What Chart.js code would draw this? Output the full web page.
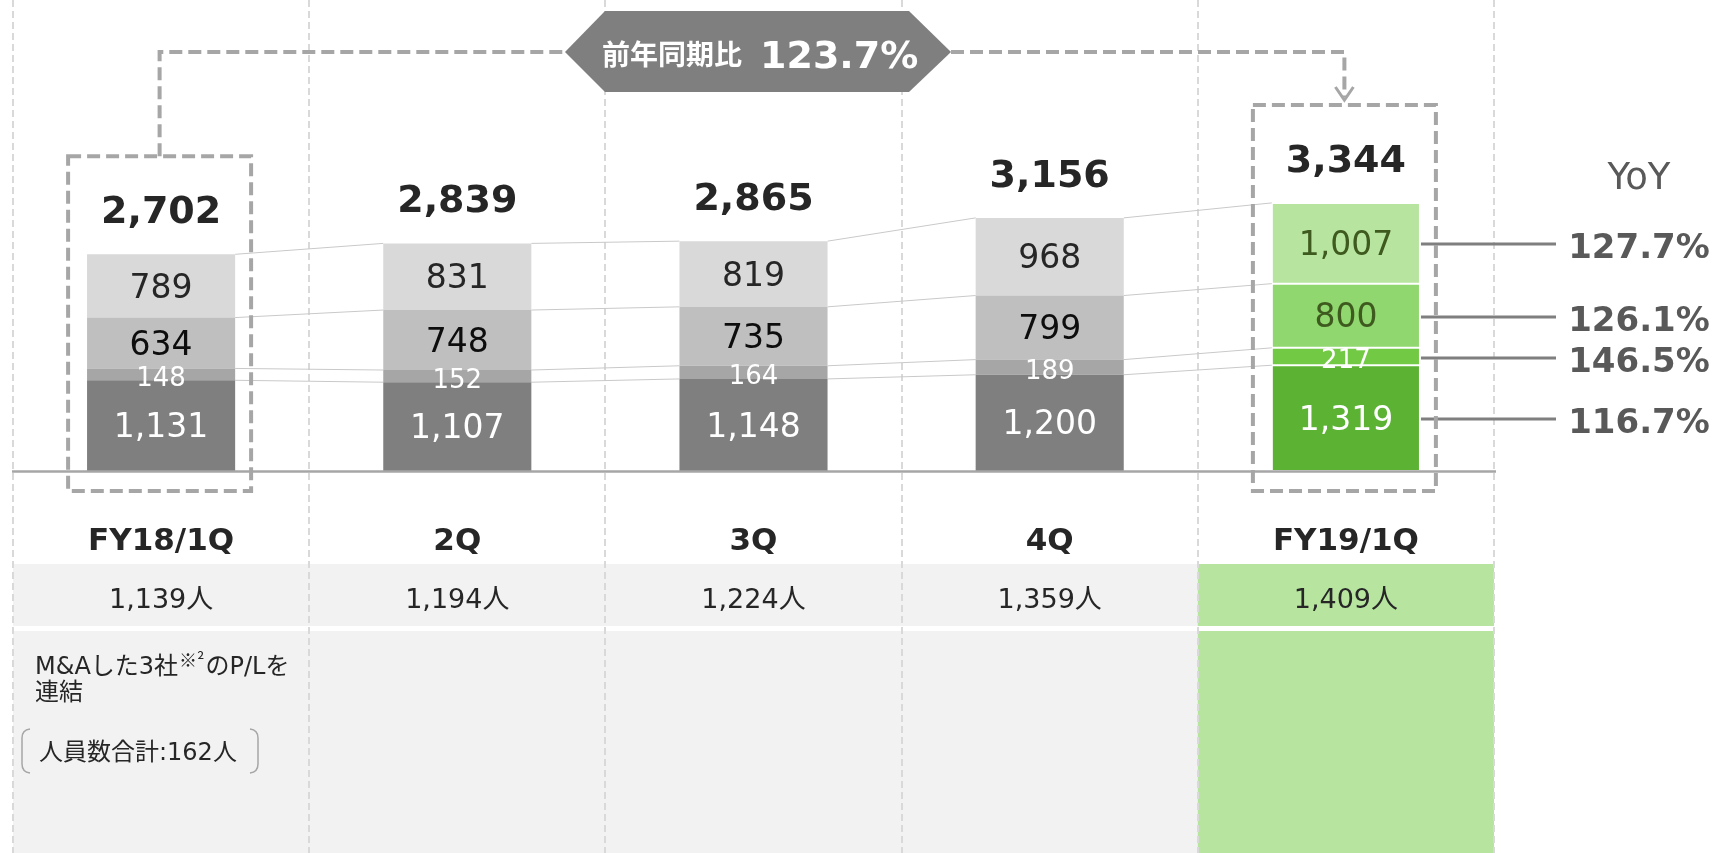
<!DOCTYPE html>
<html>
<head>
<meta charset="utf-8">
<script src="https://cdn.jsdelivr.net/npm/chart.js@4.4.0/dist/chart.umd.min.js"></script>
<style>
  body { margin: 0; background: #fff; }
  canvas { display: block; }
</style>
</head>
<body>
<canvas id="myChart" width="1734" height="853"></canvas>
<script>
// data
const categories = ['FY18/1Q', '2Q', '3Q', '4Q', 'FY19/1Q'];
const series1 = [1131, 1107, 1148, 1200, 1319];
const series2 = [148, 152, 164, 189, 217];
const series3 = [634, 748, 735, 799, 800];
const series4 = [789, 831, 819, 968, 1007];
const totals = [2702, 2839, 2865, 3156, 3344];
const headcount = [1139, 1194, 1224, 1359, 1409];
const yoyLabels = ['116.7%', '146.5%', '126.1%', '127.7%'];
const yoyTotal = '123.7%';

const greyColors = ['#7f7f7f', '#a6a6a6', '#bfbfbf', '#d9d9d9'];
const greenColors = ['#5bb233', '#72c944', '#8fd76e', '#b7e5a0'];
const LATIN = '"DejaVu Sans", "Noto Sans CJK JP", sans-serif';
const JP = '"Noto Sans CJK JP", "DejaVu Sans", sans-serif';

const allSeries = [series1, series2, series3, series4];
const last = categories.length - 1;

const datasets = allSeries.map((vals, s) => ({
    data: vals,
    backgroundColor: vals.map((v, i) => i === last ? greenColors[s] : greyColors[s]),
    borderColor: '#ffffff',
    borderWidth: vals.map((v, i) => i === last ? 1 : 0),
    borderSkipped: false,
    barPercentage: 0.5,
    categoryPercentage: 1
}));

function fmt(n) {
    return n.toLocaleString('en-US');
}

function dashedLine(ctx, pts) {
    ctx.beginPath();
    ctx.moveTo(pts[0][0], pts[0][1]);
    for (let i = 1; i < pts.length; i++) ctx.lineTo(pts[i][0], pts[i][1]);
    ctx.stroke();
}

const decor = {
    id: 'decor',
    beforeDraw(chart) {
        const ctx = chart.ctx;
        const x = chart.scales.x;
        const step = x.getPixelForValue(1) - x.getPixelForValue(0);
        const start = x.getPixelForValue(0) - step / 2;
        ctx.save();
        // table bands
        ctx.fillStyle = '#f2f2f2';
        ctx.fillRect(x.left, 564, x.right - x.left, 62);
        ctx.fillRect(x.left, 631, x.right - x.left, 853 - 631);
        ctx.fillStyle = '#b7e5a0';
        ctx.fillRect(start + last * step, 564, step, 62);
        ctx.fillRect(start + last * step, 631, step, 853 - 631);

        // column dividers
        ctx.strokeStyle = '#d9d9d9';
        ctx.lineWidth = 2;
        ctx.setLineDash([7, 4]);
        for (let i = 0; i <= categories.length; i++) {
            const px = Math.round(start + i * step);
            dashedLine(ctx, [[px, 0], [px, 853]]);
        }
        ctx.setLineDash([]);

        // table text
        ctx.fillStyle = '#262626';
        ctx.textAlign = 'center';
        ctx.textBaseline = 'middle';
        for (let i = 0; i < categories.length; i++) {
            const cx = x.getPixelForValue(i);
            ctx.font = 'bold 31px ' + LATIN;
            ctx.fillText(categories[i], cx, 542);
            ctx.font = '27px ' + LATIN;
            ctx.fillText(fmt(headcount[i]) + '人', cx, 601);
        }

        // note in first column
        ctx.textAlign = 'left';
        let tx = 35;
        ctx.font = '24px ' + LATIN;
        ctx.fillText('M&Aした3社', tx, 668);
        tx += ctx.measureText('M&Aした3社').width;
        ctx.font = '18px ' + JP;
        ctx.fillText('※²', tx + 1, 660);
        tx += ctx.measureText('※²').width + 2;
        ctx.font = '24px ' + LATIN;
        ctx.fillText('のP/Lを', tx, 668);
        ctx.fillText('連結', 35, 694);
        ctx.fillText('人員数合計:162人', 39, 754);

        ctx.strokeStyle = '#a6a6a6';
        ctx.lineWidth = 1.5;
        ctx.beginPath();
        ctx.moveTo(30, 729);
        ctx.quadraticCurveTo(22, 730, 22, 738);
        ctx.lineTo(22, 764);
        ctx.quadraticCurveTo(22, 772, 30, 773);
        ctx.stroke();
        ctx.beginPath();
        ctx.moveTo(250, 729);
        ctx.quadraticCurveTo(258, 730, 258, 738);
        ctx.lineTo(258, 764);
        ctx.quadraticCurveTo(258, 772, 250, 773);
        ctx.stroke();
        ctx.restore();
    },
    beforeDatasetsDraw(chart) {
        // thin connector lines between segment tops
        const ctx = chart.ctx;
        ctx.save();
        ctx.strokeStyle = '#c9c9c9';
        ctx.lineWidth = 1;
        for (let s = 0; s < datasets.length; s++) {
            const els = chart.getDatasetMeta(s).data;
            for (let i = 0; i < els.length - 1; i++) {
                const a = els[i], b = els[i + 1];
                ctx.beginPath();
                ctx.moveTo(a.x + a.width / 2, a.y);
                ctx.lineTo(b.x - b.width / 2, b.y);
                ctx.stroke();
            }
        }
        ctx.restore();
    },
    afterDatasetsDraw(chart) {
        const ctx = chart.ctx;
        const x = chart.scales.x;
        const y = chart.scales.y;
        ctx.save();
        // baseline
        ctx.strokeStyle = '#a6a6a6';
        ctx.lineWidth = 2.5;
        const by = y.getPixelForValue(0) + 0.5;
        ctx.beginPath();
        ctx.moveTo(x.left - 1, by);
        ctx.lineTo(x.right + 2, by);
        ctx.stroke();

        // segment labels
        ctx.textAlign = 'center';
        ctx.textBaseline = 'middle';
        for (let s = 0; s < datasets.length; s++) {
            const els = chart.getDatasetMeta(s).data;
            els.forEach((el, i) => {
                const green = i === last;
                let color = '#ffffff';
                if (s === 2) color = green ? '#3f5a1f' : '#0d0d0d';
                if (s === 3) color = green ? '#3f5a1f' : '#262626';
                ctx.fillStyle = color;
                ctx.font = (s === 1 ? '26px ' : '33px ') + LATIN;
                const cy = (el.y + el.base) / 2 + (s === 1 ? 5 : 3);
                ctx.fillText(fmt(allSeries[s][i]), el.x, cy);
            });
        }

        // totals above bars
        const topEls = chart.getDatasetMeta(datasets.length - 1).data;
        ctx.fillStyle = '#262626';
        ctx.font = 'bold 38px ' + LATIN;
        topEls.forEach((el, i) => {
            ctx.fillText(fmt(totals[i]), el.x, el.y - 41);
        });

        // YoY column
        const greenEls = datasets.map((d, s) => chart.getDatasetMeta(s).data[last]);
        ctx.fillStyle = '#595959';
        ctx.font = '37px ' + LATIN;
        ctx.fillText('YoY', 1639, 179);
        ctx.strokeStyle = '#7f7f7f';
        ctx.lineWidth = 3;
        ctx.font = 'bold 34px ' + LATIN;
        greenEls.forEach((el, s) => {
            const cy = Math.round((el.y + el.base) / 2) + 1;
            ctx.beginPath();
            ctx.moveTo(el.x + el.width / 2 + 1, cy);
            ctx.lineTo(1556, cy);
            ctx.stroke();
            ctx.fillText(yoyLabels[s], 1639, cy + 5);
        });
        ctx.restore();
    },
    afterDraw(chart) {
        const ctx = chart.ctx;
        const topEls = chart.getDatasetMeta(datasets.length - 1).data;
        const first = topEls[0], lastEl = topEls[last];
        ctx.save();
        ctx.strokeStyle = '#a6a6a6';
        ctx.lineWidth = 4;
        ctx.setLineDash([13, 6]);
        // highlight boxes
        const boxes = [first, lastEl].map(el => ({
            l: el.x - 93, r: el.x + 90, t: el.y - 98, b: 491
        }));
        boxes.forEach(bx => {
            ctx.strokeRect(bx.l, bx.t, bx.r - bx.l, bx.b - bx.t);
        });
        // banner
        const bl = 565, br = 951, bt = 11, bb = 92, my = 52;
        const c1 = (boxes[0].l + boxes[0].r) / 2;
        const c2 = (boxes[1].l + boxes[1].r) / 2;
        dashedLine(ctx, [[c1, boxes[0].t], [c1, my], [bl, my]]);
        dashedLine(ctx, [[br, my], [c2, my], [c2, 97]]);
        ctx.setLineDash([]);
        ctx.lineWidth = 3;
        ctx.beginPath();
        ctx.moveTo(c2 - 9, 87);
        ctx.lineTo(c2, 100);
        ctx.lineTo(c2 + 9, 87);
        ctx.stroke();

        ctx.fillStyle = '#7f7f7f';
        ctx.beginPath();
        ctx.moveTo(bl, my);
        ctx.lineTo(bl + 40, bt);
        ctx.lineTo(br - 42, bt);
        ctx.lineTo(br, my);
        ctx.lineTo(br - 42, bb);
        ctx.lineTo(bl + 40, bb);
        ctx.closePath();
        ctx.fill();
        ctx.fillStyle = '#ffffff';
        ctx.textAlign = 'left';
        ctx.textBaseline = 'middle';
        ctx.font = 'bold 28px ' + JP;
        ctx.fillText('前年同期比', 602, 54);
        ctx.font = 'bold 38px ' + LATIN;
        ctx.fillText(yoyTotal, 760, 58);
        ctx.restore();
    }
};

new Chart(document.getElementById('myChart'), {
    type: 'bar',
    data: {
        labels: categories,
        datasets: datasets
    },
    options: {
        responsive: false,
        animation: false,
        layout: { padding: { left: 13, right: 240, top: 70, bottom: 382 } },
        plugins: {
            legend: { display: false },
            tooltip: { enabled: false }
        },
        scales: {
            x: { stacked: true, display: false },
            y: { stacked: true, display: false, min: 0, max: 5000 }
        }
    },
    plugins: [decor]
});
</script>
</body>
</html>
